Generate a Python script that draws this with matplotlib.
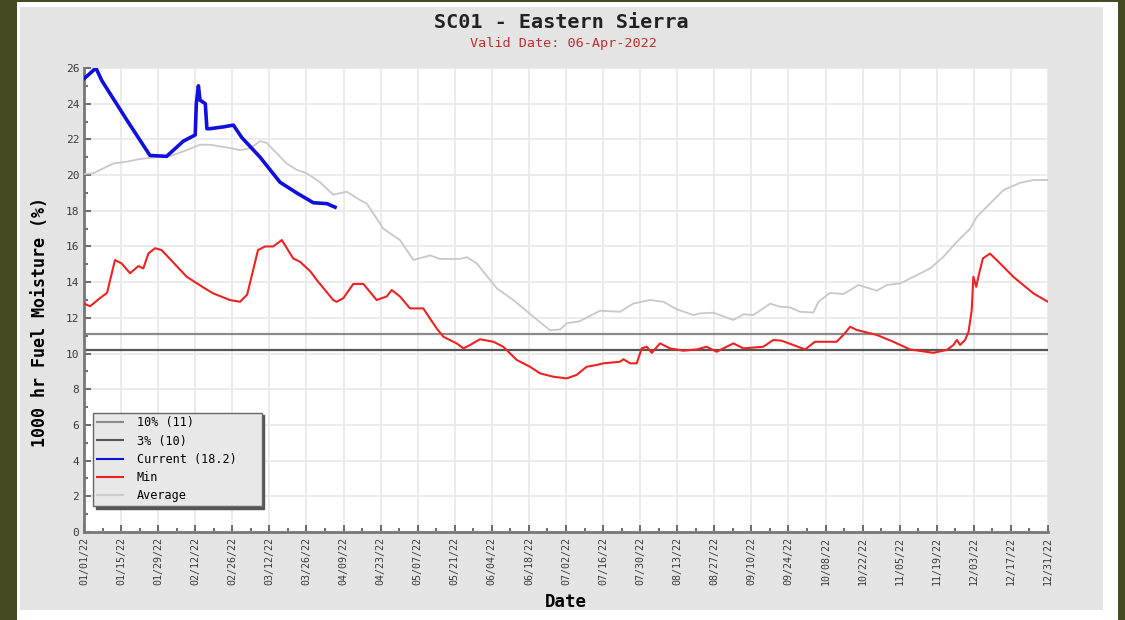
import matplotlib
matplotlib.use("Agg")
import matplotlib.pyplot as plt
from matplotlib.patches import Rectangle
from matplotlib.lines import Line2D
import numpy as np
import pandas as pd

# Data (day offsets from 01/01/22)
current_days = [0, 2.3, 4.5, 6.7, 16.1, 24.9, 31.2, 37.5, 42.0, 42.4, 43.2, 43.8, 45.8, 46.4,
                47.6, 52.6, 56.4, 59.6, 66.5, 74.0, 80.3, 86.6, 91.7, 94.8]
current_vals = [25.4, 25.7, 26.0, 25.3, 23.1, 21.1, 21.05, 21.9, 22.25, 24.0, 25.0, 24.2, 24.0, 22.6,
                22.6, 22.7, 22.8, 22.1, 21.0, 19.6, 19.0, 18.45, 18.4, 18.2]

avg_days = [0, 3.5, 11.1, 16.1, 21.1, 27.5, 32.5, 38.8, 43.8, 47.6, 53.9, 58.9, 62.7, 66.5, 69,
            76.5, 80.3, 84.1, 89.1, 94.1, 99.2, 104.2, 106.8, 113, 119.3, 124.4, 130.7, 134.4,
            142, 144.5, 148.3, 155.9, 162.1, 169.7, 176, 179.8, 182.3, 187, 194.9, 202.4,
            207.4, 213.7, 218.8, 223.8, 230.1, 232.6, 237.6, 245.2, 249, 252.8, 259.1, 262.8,
            266.6, 270.4, 275.4, 277.3, 281.7, 286.7, 292.4, 299.4, 303.1, 308.2, 313.2,
            319.5, 324.5, 329.6, 334.6, 337.1, 342.1, 347.2, 353.5, 358.5, 364]
avg_vals = [20.06, 20.1, 20.65, 20.75, 20.9, 21.0, 21.06, 21.4, 21.7, 21.7, 21.55, 21.4, 21.5,
            21.9, 21.8, 20.65, 20.3, 20.1, 19.6, 18.9, 19.07, 18.6, 18.4, 17.0, 16.36, 15.24,
            15.5, 15.3, 15.3, 15.4, 15.05, 13.65, 13.0, 12.06, 11.3, 11.35, 11.7, 11.8, 12.4,
            12.34, 12.8, 13.0, 12.9, 12.48, 12.16, 12.25, 12.29, 11.88, 12.2, 12.16, 12.8,
            12.62, 12.59, 12.34, 12.3, 12.9, 13.4, 13.33, 13.84, 13.52, 13.84, 13.93, 14.3,
            14.77, 15.42, 16.26, 17.0, 17.66, 18.4, 19.16, 19.57, 19.72, 19.72]

min_days = [0, 2.3, 6, 8.7, 11.7, 14.2, 17.4, 20.5, 22.4, 24.3, 26.8, 29.3, 38.8, 45.1, 48.8,
            55.1, 58.9, 61.6, 65.7, 68.4, 71.4, 74.7, 79, 81.6, 85.5, 88, 94.1, 95.4, 97.9,
            101.7, 105.5, 110.5, 114.3, 116.2, 119.3, 123.1, 128.1, 133.2, 135.7, 140.7, 143.3,
            145.8, 149.5, 154.6, 158.3, 163.4, 168.4, 172.2, 177.2, 182.3, 186, 189.8, 193.6,
            196.1, 202.4, 203.7, 206.2, 208.7, 210.6, 212.5, 214.4, 217.5, 221.3, 226.3,
            231.4, 235.1, 238.9, 245.2, 249, 256.5, 260.3, 263.4, 272.3, 276, 284.2, 286.7,
            289.3, 291.8, 299.4, 305.6, 311.9, 320.7, 325.8, 328.3, 329.6, 330.8, 332.7, 334,
            335.2, 335.8, 336.9, 337.7, 339.4, 342.1, 345.9, 350.9, 358.5, 364]
min_vals = [12.8, 12.65, 13.1, 13.4, 15.24, 15.05, 14.5, 14.9, 14.77, 15.6, 15.9, 15.8, 14.3,
            13.7, 13.37, 13.0, 12.9, 13.3, 15.8, 16.0, 16.0, 16.36, 15.33, 15.14, 14.6, 14.1,
            13.0, 12.9, 13.1, 13.9, 13.9, 13.0, 13.2, 13.56, 13.2, 12.53, 12.53, 11.4, 10.94,
            10.57, 10.29, 10.48, 10.8, 10.66, 10.38, 9.64, 9.26, 8.89, 8.7, 8.61, 8.8, 9.26,
            9.36, 9.45, 9.54, 9.68, 9.45, 9.45, 10.29, 10.38, 10.04, 10.57, 10.29, 10.16,
            10.23, 10.38, 10.1, 10.57, 10.29, 10.38, 10.76, 10.72, 10.23, 10.66, 10.66, 11.04,
            11.5, 11.32, 11.04, 10.66, 10.23, 10.04, 10.2, 10.48, 10.76, 10.48, 10.76, 11.22,
            12.44, 14.3, 13.74, 14.3, 15.33, 15.6, 15.05, 14.3, 13.37, 12.9]

pct10 = 11.1
pct3 = 10.2
legend_labels = ["10% (11)", "3% (10)", "Current (18.2)", "Min", "Average"]

start = pd.Timestamp("2022-01-01")
def to_dates(days):
    return [start + pd.Timedelta(days=d) for d in days]

mono = "DejaVu Sans Mono"

fig = plt.figure(figsize=(11.25, 6.2), dpi=100)
fig.patch.set_facecolor("#464a23")
W, H = 1125.0, 620.0
# white border + grey panel behind the plot
fig.patches.append(Rectangle((17 / W, 0), (1118 - 17) / W, (620 - 2) / H,
                             transform=fig.transFigure, facecolor="white", edgecolor="none", zorder=-10))
fig.patches.append(Rectangle((20 / W, 10 / H), (1103 - 20) / W, (613 - 10) / H,
                             transform=fig.transFigure, facecolor="#e4e4e4", edgecolor="none", zorder=-9))

ax = fig.add_axes([84 / W, 1 - 532 / H, (1048 - 84) / W, (532 - 68) / H])
ax.set_zorder(5)
ax.set_facecolor("white")

ax.plot(to_dates(avg_days), avg_vals, color="#c8c8c8", lw=1.3, zorder=3)
ax.axhline(pct10, color="#8a8a8a", lw=1.6, zorder=2)
ax.axhline(pct3, color="#555555", lw=1.6, zorder=2)
ax.plot(to_dates(min_days), min_vals, color="#ee2222", lw=1.5, zorder=4)
ax.plot(to_dates(current_days), current_vals, color="#1010dd", lw=2.6, zorder=5)

ax.set_xlim(start, start + pd.Timedelta(days=364))
ax.set_ylim(0, 26)

xticks = pd.date_range("2022-01-01", "2022-12-31", freq="14D")
ax.set_xticks(xticks)
ax.set_xticklabels([d.strftime("%m/%d/%y") for d in xticks], rotation=90,
                   fontsize=7.2, family=mono, color="#3a3a3a")
ax.set_xticks(pd.date_range("2022-01-08", "2022-12-31", freq="14D"), minor=True)
ax.set_yticks(np.arange(0, 27, 2))
ax.set_yticks(np.arange(1, 26, 2), minor=True)
ax.set_yticklabels([str(v) for v in range(0, 27, 2)], fontsize=8, family=mono, color="#3a3a3a")
ax.tick_params(which="both", direction="in", color="#555555", width=1.2)
ax.tick_params(which="major", length=5)
ax.tick_params(which="minor", length=3)

ax.grid(True, which="major", color="#ebebeb", lw=1.4, zorder=1)
for s in ["top", "right"]:
    ax.spines[s].set_visible(False)
for s in ["left", "bottom"]:
    ax.spines[s].set_color("#777777")
    ax.spines[s].set_linewidth(2)

ax.set_xlabel("Date", fontsize=12.5, fontweight="bold", family=mono)
ax.set_ylabel("1000 hr Fuel Moisture (%)", fontsize=12, fontweight="bold", family=mono)
ax.xaxis.set_label_coords(0.5, -0.151)
ax.yaxis.set_label_coords(-0.0456, 0.4526)
ax.xaxis.label.set_va("center")
ax.yaxis.label.set_va("center")

fig.text(561 / W, 1 - 22 / H, "SC01 - Eastern Sierra", ha="center", va="center",
         fontsize=14.5, fontweight="bold", family=mono, color="#222222")
fig.text(563 / W, 1 - 43 / H, "Valid Date: 06-Apr-2022", ha="center", va="center",
         fontsize=9.7, family=mono, color="#c03030")

handles = [Line2D([], [], color="#8a8a8a", lw=1.5),
           Line2D([], [], color="#555555", lw=1.5),
           Line2D([], [], color="#1010dd", lw=1.5),
           Line2D([], [], color="#ee2222", lw=1.5),
           Line2D([], [], color="#cccccc", lw=1.5)]
# trailing spaces widen the box to the reference's right padding
leg_text = [legend_labels[0], legend_labels[1], legend_labels[2] + "   ",
            legend_labels[3], legend_labels[4]]
leg = ax.legend(handles, leg_text, loc="lower left", bbox_to_anchor=(0.0095, 0.056),
                borderaxespad=0, prop={"family": mono, "size": 8.5}, frameon=True,
                fancybox=False, shadow={"color": "#555555", "alpha": 1},
                handlelength=2.2, labelspacing=0.45, borderpad=0.3, handletextpad=1.2)
leg.get_frame().set_facecolor("#e8e8e8")
leg.get_frame().set_edgecolor("#666666")
leg.get_frame().set_alpha(1)

fig.savefig("out.png", dpi=100, facecolor=fig.get_facecolor())
